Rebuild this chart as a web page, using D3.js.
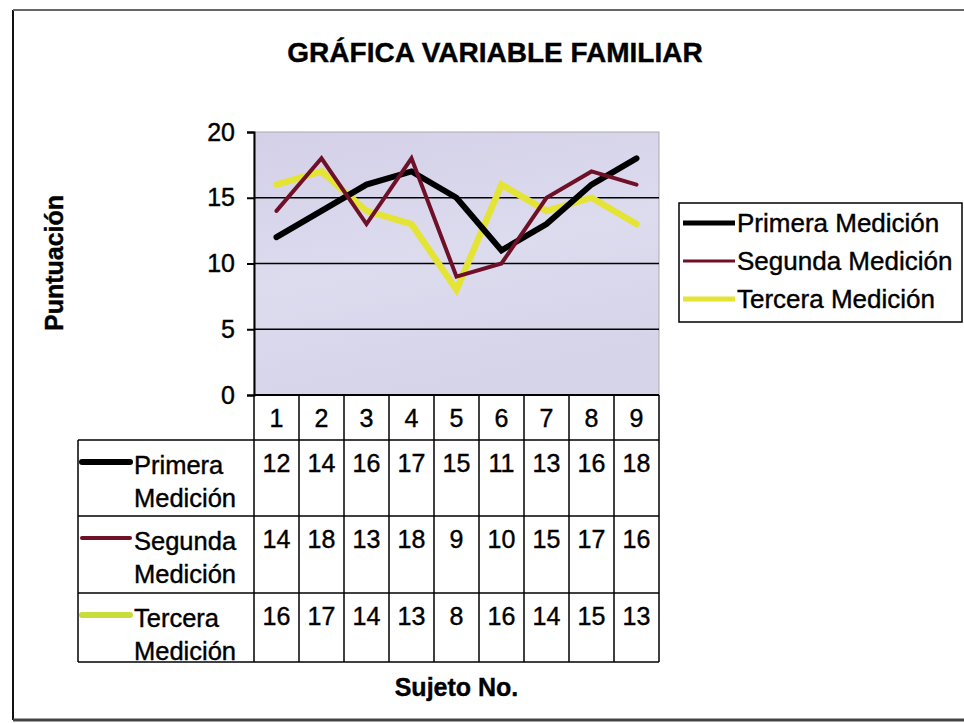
<!DOCTYPE html>
<html>
<head>
<meta charset="utf-8">
<script src="https://cdn.jsdelivr.net/npm/d3@7"></script>
<style>
  body { margin: 0; background: #fff; }
  svg { display: block; font-family: "Liberation Sans", Arial, sans-serif; }
  .scan { stroke: #000; stroke-width: 0.4px; }
</style>
</head>
<body>
<div id="chart"></div>
<script>
var subjects = ["1", "2", "3", "4", "5", "6", "7", "8", "9"];
var primera = [12, 14, 16, 17, 15, 11, 13, 16, 18];
var segunda = [14, 18, 13, 18, 9, 10, 15, 17, 16];
var tercera = [16, 17, 14, 13, 8, 16, 14, 15, 13];
var seriesNames = ["Primera Medición", "Segunda Medición", "Tercera Medición"];
var tableLabels = [["Primera", "Medición"], ["Segunda", "Medición"], ["Tercera", "Medición"]];
var yTicks = [0, 5, 10, 15, 20];

var W = 964, H = 723;
var plot = { left: 254, right: 659, top: 132, bottom: 395 };

var series = [
    { name: seriesNames[0], values: primera, color: "#000000", width: 6, key: 6 },
    { name: seriesNames[1], values: segunda, color: "#6e1028", width: 4, key: 4 },
    { name: seriesNames[2], values: tercera, color: "#e4e436", width: 6.5, key: 6 }
];

var svg = d3.select("#chart").append("svg")
    .attr("width", W)
    .attr("height", H);

var x = d3.scaleBand().domain(subjects).range([plot.left, plot.right]);
var y = d3.scaleLinear().domain([0, 20]).range([plot.bottom, plot.top]);

// chart frame (scan only shows left / top / bottom)
svg.append("line").attr("x1", 13).attr("x2", 13).attr("y1", 10).attr("y2", 720)
    .attr("stroke", "#111").attr("stroke-width", 2);
svg.append("line").attr("x1", 13).attr("x2", W).attr("y1", 10).attr("y2", 10)
    .attr("stroke", "#666").attr("stroke-width", 2);
svg.append("line").attr("x1", 13).attr("x2", W).attr("y1", 720).attr("y2", 720)
    .attr("stroke", "#444").attr("stroke-width", 3);

// title
svg.append("text")
    .attr("class", "scan")
    .attr("x", 495).attr("y", 62)
    .attr("text-anchor", "middle")
    .style("font-size", "28px").style("font-weight", "bold")
    .text("GRÁFICA VARIABLE FAMILIAR");

// plot background
var defs = svg.append("defs");
var grad = defs.append("linearGradient").attr("id", "bg")
    .attr("x1", "0").attr("y1", "0").attr("x2", "0.3").attr("y2", "1");
grad.append("stop").attr("offset", "0%").attr("stop-color", "#d3d0e8");
grad.append("stop").attr("offset", "55%").attr("stop-color", "#dddbee");
grad.append("stop").attr("offset", "100%").attr("stop-color", "#d6d4e9");

svg.append("rect")
    .attr("x", plot.left).attr("y", plot.top)
    .attr("width", plot.right - plot.left).attr("height", plot.bottom - plot.top)
    .attr("fill", "url(#bg)")
    .attr("stroke", "#aaa").attr("stroke-width", 1);

// gridlines
svg.append("g").selectAll("line")
    .data(yTicks.filter(function (d) { return d > 0 && d < 20; }))
    .enter().append("line")
    .attr("x1", plot.left).attr("x2", plot.right)
    .attr("y1", function (d) { return y(d); })
    .attr("y2", function (d) { return y(d); })
    .attr("stroke", "#000").attr("stroke-width", 1.5);

// y axis
var yAxis = d3.axisLeft(y).tickValues(yTicks).tickSize(7).tickPadding(12);
var gy = svg.append("g")
    .attr("transform", "translate(" + plot.left + ",0)")
    .call(yAxis);
gy.selectAll("path, line").attr("stroke", "#000").attr("stroke-width", 2);
gy.selectAll("text")
    .attr("class", "scan")
    .style("font-size", "25px").style("font-family", "Liberation Sans, Arial, sans-serif").attr("fill", "#000");

svg.append("line")
    .attr("x1", plot.left).attr("x2", plot.right)
    .attr("y1", plot.bottom).attr("y2", plot.bottom)
    .attr("stroke", "#000").attr("stroke-width", 2);

// y axis title
svg.append("text")
    .attr("class", "scan")
    .attr("transform", "translate(63,263) rotate(-90)")
    .attr("text-anchor", "middle")
    .style("font-size", "25px").style("font-weight", "bold")
    .text("Puntuación");

// lines
var line = d3.line()
    .x(function (d, i) { return x(subjects[i]) + x.bandwidth() / 2; })
    .y(function (d) { return y(d); });

var drawOrder = [series[2], series[0], series[1]];
svg.append("g").selectAll("path")
    .data(drawOrder)
    .enter().append("path")
    .attr("d", function (d) { return line(d.values); })
    .attr("fill", "none")
    .attr("stroke", function (d) { return d.color; })
    .attr("stroke-width", function (d) { return d.width; })
    .attr("stroke-linejoin", "miter")
    .attr("stroke-linecap", "round");

// legend
var lg = svg.append("g");
lg.append("rect")
    .attr("x", 679).attr("y", 203).attr("width", 283).attr("height", 119)
    .attr("fill", "#fff").attr("stroke", "#000").attr("stroke-width", 1.5);
var legRows = lg.selectAll(".legend")
    .data(series)
    .enter().append("g")
    .attr("class", "legend")
    .attr("transform", function (d, i) { return "translate(0," + (223 + i * 38) + ")"; });
legRows.append("line")
    .attr("x1", 683).attr("x2", 735)
    .attr("stroke", function (d) { return d.color; })
    .attr("stroke-width", function (d) { return d.key - 1; });
legRows.append("text")
    .attr("class", "scan")
    .attr("x", 737).attr("dy", "0.35em")
    .style("font-size", "26px")
    .text(function (d) { return d.name; });

// data table
var rowTops = [440, 516, 593];
var tableLeft = 78;
var tbl = svg.append("g");

// header row with category labels
tbl.selectAll(".cat")
    .data(subjects)
    .enter().append("text")
    .attr("class", "cat scan")
    .attr("x", function (d) { return x(d) + x.bandwidth() / 2; })
    .attr("y", 418).attr("dy", "0.35em")
    .attr("text-anchor", "middle")
    .style("font-size", "25px")
    .text(function (d) { return d; });

// grid of the table
var hLines = [440, 516, 593, 662];
tbl.selectAll(".hl")
    .data(hLines)
    .enter().append("line")
    .attr("x1", tableLeft).attr("x2", plot.right)
    .attr("y1", function (d) { return d; }).attr("y2", function (d) { return d; })
    .attr("stroke", "#000").attr("stroke-width", 1.5);
tbl.selectAll(".vl")
    .data(subjects.map(function (s) { return x(s); }).concat([plot.right]))
    .enter().append("line")
    .attr("x1", function (d) { return d; }).attr("x2", function (d) { return d; })
    .attr("y1", plot.bottom).attr("y2", 662)
    .attr("stroke", "#000").attr("stroke-width", 1.5);
tbl.append("line")
    .attr("x1", tableLeft).attr("x2", tableLeft).attr("y1", 440).attr("y2", 662)
    .attr("stroke", "#000").attr("stroke-width", 1.5);

series.forEach(function (s, r) {
    var top = rowTops[r];
    var g = tbl.append("g");
    g.append("line")
        .attr("x1", 82).attr("x2", 130)
        .attr("y1", top + 22).attr("y2", top + 22)
        .attr("stroke", r === 2 ? "#c8dc3c" : s.color)
        .attr("stroke-width", s.key)
        .attr("stroke-linecap", "round");
    g.selectAll(".lab")
        .data(tableLabels[r])
        .enter().append("text")
        .attr("class", "scan")
        .attr("x", 134)
        .attr("y", function (d, i) { return top + 25 + i * 33; })
        .attr("dy", "0.35em")
        .style("font-size", "25.5px")
        .text(function (d) { return d; });
    g.selectAll(".val")
        .data(s.values)
        .enter().append("text")
        .attr("class", "scan")
        .attr("x", function (d, i) { return x(subjects[i]) + x.bandwidth() / 2; })
        .attr("y", top + 23)
        .attr("dy", "0.35em")
        .attr("text-anchor", "middle")
        .style("font-size", "25px")
        .text(function (d) { return d; });
});

// x axis title
svg.append("text")
    .attr("class", "scan")
    .attr("x", (plot.left + plot.right) / 2).attr("y", 687)
    .attr("dy", "0.35em")
    .attr("text-anchor", "middle")
    .style("font-size", "25px").style("font-weight", "bold")
    .text("Sujeto No.");
</script>
</body>
</html>
